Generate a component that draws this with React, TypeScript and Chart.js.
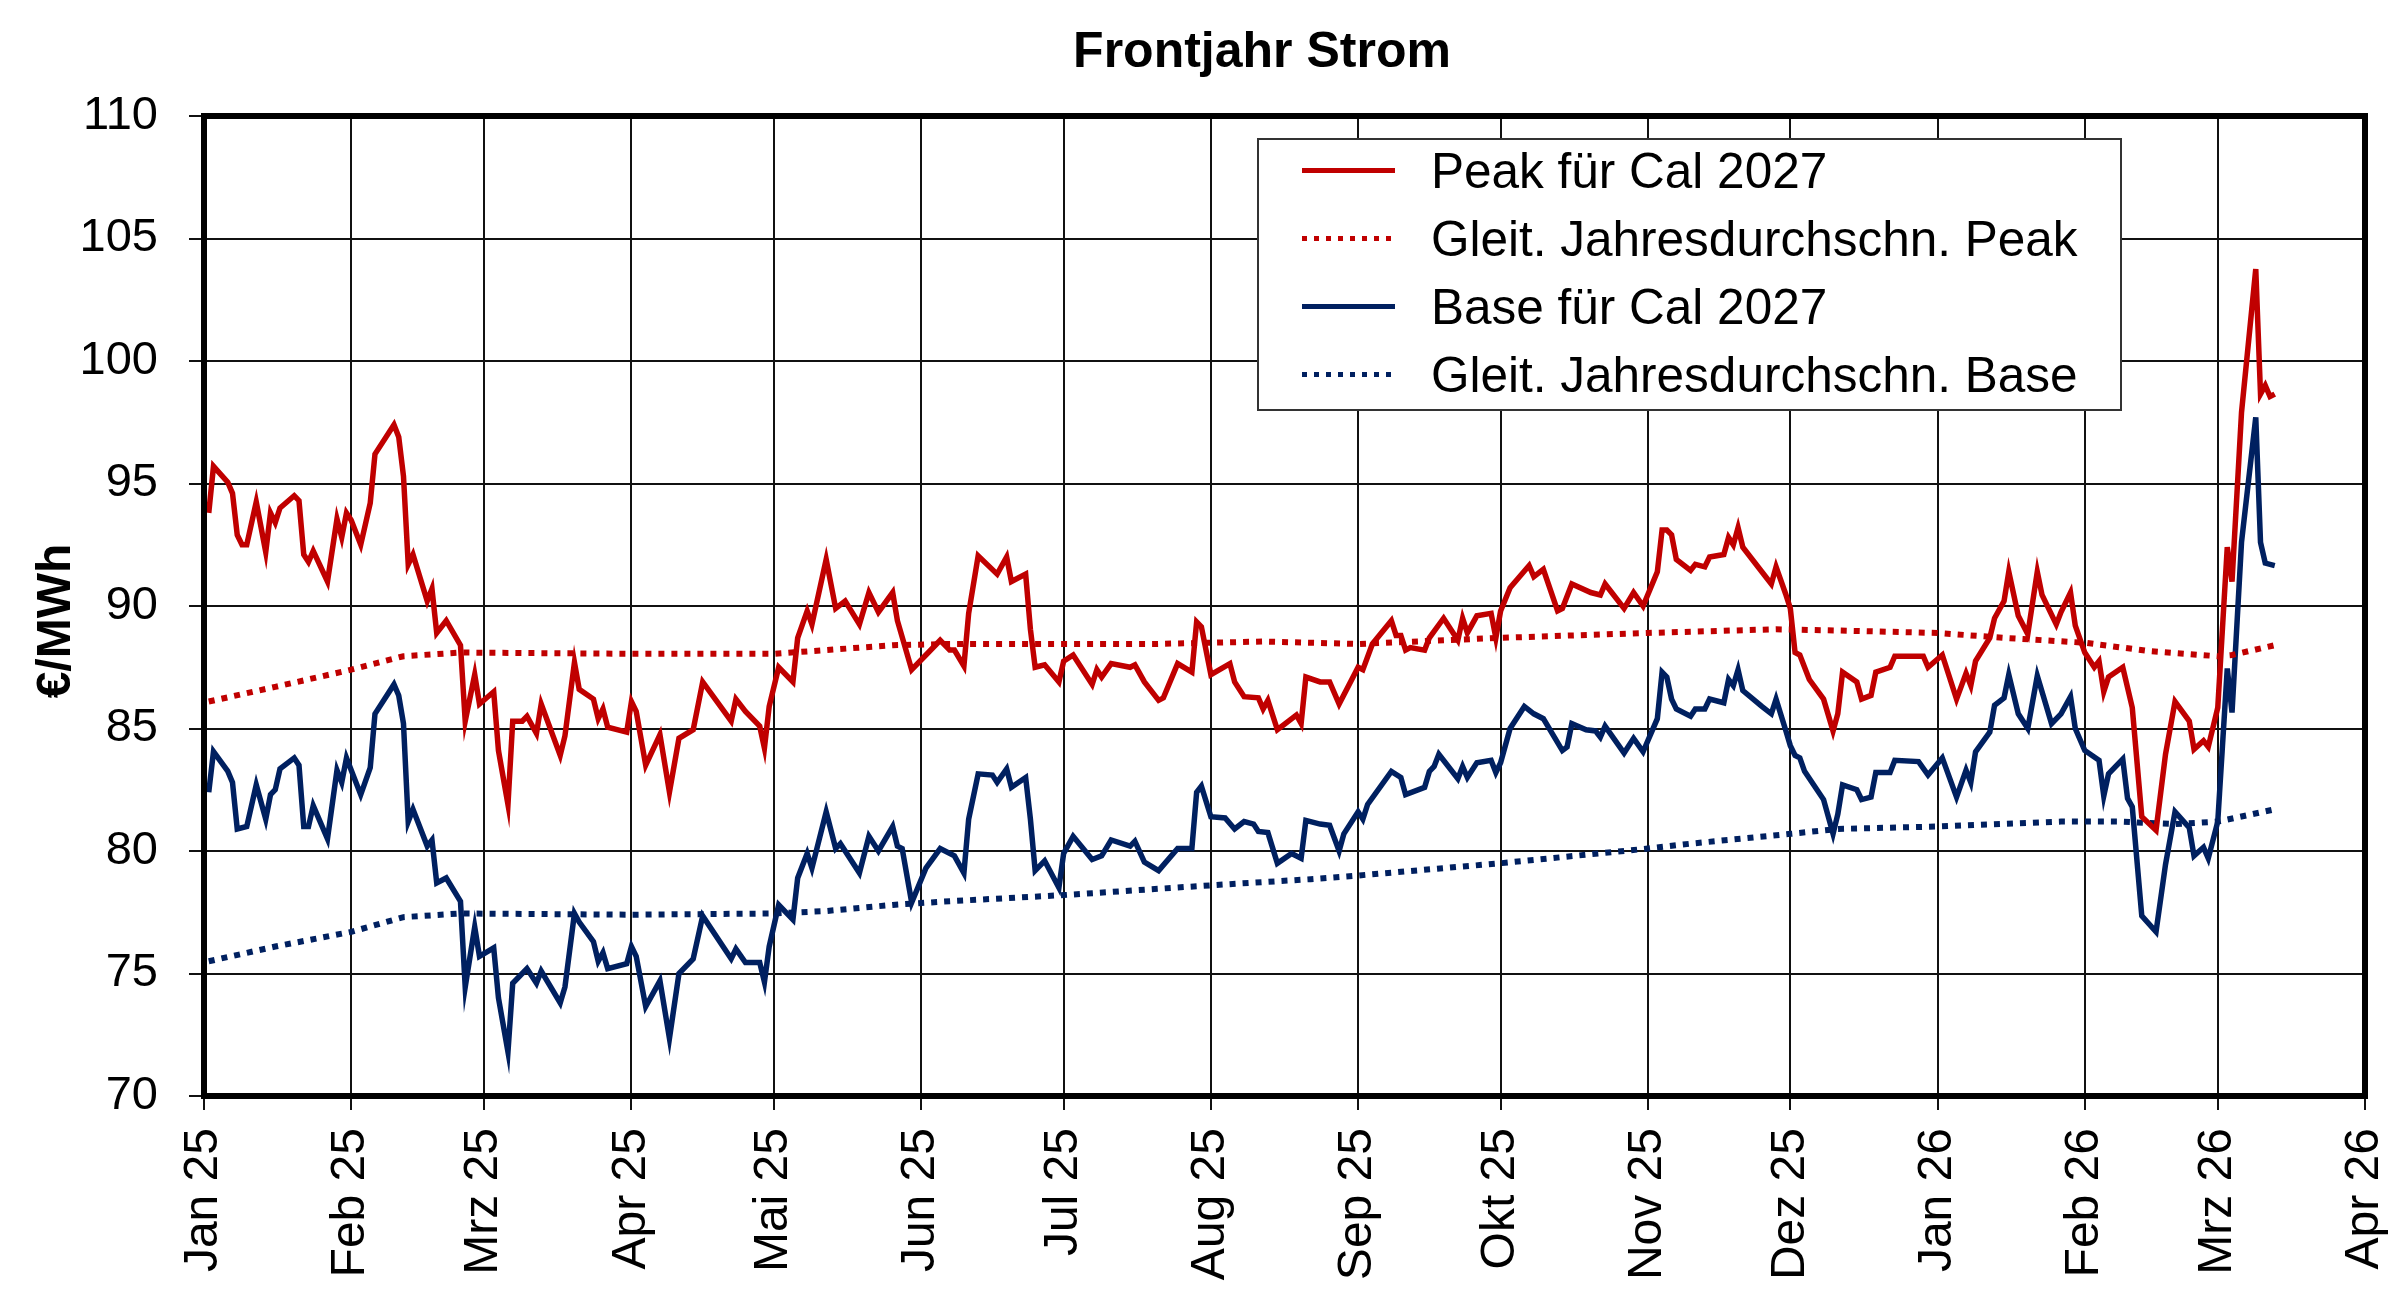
import { useEffect, useRef } from "react";
import { Chart, registerables } from "chart.js";

Chart.register(...registerables);

// x values are days counted from 1 Jan 2025
const monthTicks = [0, 31, 59, 90, 120, 151, 181, 212, 243, 273, 304, 334, 365, 396, 424, 455];
const monthLabels = [
  "Jan 25", "Feb 25", "Mrz 25", "Apr 25", "Mai 25", "Jun 25", "Jul 25", "Aug 25",
  "Sep 25", "Okt 25", "Nov 25", "Dez 25", "Jan 26", "Feb 26", "Mrz 26", "Apr 26",
];

const peakDays = [
  1, 2, 5, 6, 7, 8, 9, 11, 13, 14, 15, 16, 19, 20, 21, 22, 23, 26, 28, 29, 30, 31, 33, 35, 36, 40, 41,
  42, 43, 44, 47, 48, 49, 51, 54, 55, 57, 58, 61, 62, 64, 65, 67, 68, 70, 71, 75, 76, 78, 79,
  82, 83, 84, 85, 89, 90, 91, 93, 96, 98, 100, 103, 105, 111, 112, 114, 117, 118, 119, 121, 124,
  125, 127, 128, 131, 133, 135, 138, 140, 142, 145, 146, 149, 152, 155, 157, 158, 160, 161, 163,
  167, 169, 170, 173, 174, 175, 177, 180, 181, 183, 187, 188, 189, 191, 195, 196, 198, 201, 202,
  205, 208, 209, 210, 212, 216, 217, 219, 222, 223, 224, 226, 230, 231, 232, 235, 237, 239, 243,
  244, 246, 250, 251, 252, 253, 254, 257, 258, 261, 264, 265, 266, 268, 271, 272, 273, 275, 279,
  280, 282, 285, 286, 288, 292, 294, 295, 299, 301, 303, 306, 307, 308, 309, 310, 313, 314, 316,
  317, 320, 321, 322, 323, 324, 328, 330, 331, 333, 334, 335, 336, 338, 341, 343, 344, 345, 348,
  349, 351, 352, 355, 356, 362, 363, 366, 369, 371, 372, 373, 376, 377, 379, 380, 382, 384, 386,
  387, 390, 391, 393, 394, 396, 398, 399, 400, 401, 404, 406, 408, 411, 413, 415, 418, 419, 421,
  422, 424, 426, 427, 429, 432, 433, 434, 435, 436,
];
const peakValues = [
  93.8, 95.7, 95.05, 94.6, 92.9, 92.5, 92.5, 94.25, 92.2, 93.8, 93.4, 94.0, 94.5, 94.3, 92.1, 91.8,
  92.25, 91.0, 93.55, 92.8, 93.8, 93.5, 92.5, 94.2, 96.2, 97.4, 96.9, 95.3, 91.7, 92.1, 90.2, 90.7,
  88.9, 89.4, 88.4, 85.3, 87.2, 86.0, 86.5, 84.1, 81.9, 85.3, 85.3, 85.5, 84.8, 86.0, 83.9, 84.7,
  87.7, 86.6, 86.2, 85.4, 85.8, 85.05, 84.85, 86.1, 85.7, 83.5, 84.75, 82.4, 84.6, 84.95, 86.9,
  85.3, 86.2, 85.7, 85.1, 84.2, 85.9, 87.5, 86.9, 88.7, 89.8, 89.25, 91.9, 89.9, 90.2, 89.25, 90.55,
  89.75, 90.55, 89.4, 87.4, 88.0, 88.6, 88.2, 88.2, 87.55, 89.7, 92.05, 91.3, 92.0, 91.0, 91.3,
  89.05, 87.5, 87.6, 86.9, 87.75, 88.0, 86.8, 87.4, 87.1, 87.65, 87.5, 87.6, 86.9, 86.15, 86.25,
  87.65, 87.3, 89.35, 89.15, 87.2, 87.65, 86.9, 86.3, 86.25, 85.8, 86.15, 84.95, 85.55, 85.2, 87.1,
  86.9, 86.9, 86.0, 87.5, 87.4, 88.45, 89.4, 88.8, 88.8, 88.2, 88.3, 88.2, 88.7, 89.5, 88.6, 89.5,
  88.9, 89.6, 89.7, 88.7, 89.8, 90.75, 91.65, 91.2, 91.5, 89.8, 89.9, 90.9, 90.55, 90.45, 90.9,
  89.9, 90.55, 90.0, 91.4, 93.1, 93.1, 92.9, 91.9, 91.45, 91.7, 91.6, 92.0, 92.1, 92.8, 92.5, 93.2,
  92.4, 91.4, 90.9, 91.6, 90.5, 89.9, 88.1, 88.0, 87.0, 86.2, 84.9, 85.6, 87.3, 86.9, 86.2, 86.35,
  87.3, 87.5, 87.95, 87.95, 87.5, 88.0, 86.2, 87.25, 86.75, 87.75, 88.7, 89.5, 90.2, 91.4, 89.6,
  88.85, 91.4, 90.45, 89.25, 89.75, 90.55, 89.2, 88.1, 87.5, 87.75, 86.5, 87.1, 87.5, 85.85, 81.4,
  80.85, 83.95, 86.1, 85.3, 84.15, 84.5, 84.25, 85.85, 92.4, 91.0, 97.9, 103.75, 98.65, 99.0,
  98.55, 98.65,
];

const baseDays = [
  1, 2, 5, 6, 7, 9, 11, 13, 14, 15, 16, 19, 20, 21, 22, 23, 26, 28, 29, 30, 33, 35, 36, 40, 41, 42,
  43, 44, 47, 48, 49, 51, 54, 55, 57, 58, 61, 62, 64, 65, 68, 70, 71, 75, 76, 78, 79, 82, 83, 84,
  85, 89, 90, 91, 93, 96, 98, 100, 103, 105, 111, 112, 114, 117, 118, 119, 121, 124, 125, 127, 128,
  131, 133, 134, 138, 140, 142, 145, 146, 147, 149, 152, 155, 158, 160, 161, 163, 166, 167, 169,
  170, 173, 174, 175, 177, 180, 181, 183, 187, 189, 191, 195, 196, 198, 201, 205, 208, 209, 210,
  212, 215, 217, 219, 221, 222, 224, 226, 229, 231, 232, 235, 237, 239, 240, 243, 244, 245, 250,
  252, 253, 257, 258, 259, 260, 264, 265, 266, 268, 271, 272, 273, 275, 278, 280, 282, 286, 287,
  288, 291, 293, 294, 295, 299, 301, 303, 306, 307, 308, 309, 310, 313, 314, 316, 317, 320, 321,
  322, 323, 324, 328, 330, 331, 333, 334, 335, 336, 337, 341, 343, 344, 345, 348, 349, 351, 352,
  355, 356, 361, 363, 366, 369, 371, 372, 373, 376, 377, 379, 380, 382, 384, 386, 389, 391, 393,
  394, 396, 399, 400, 401, 404, 405, 406, 408, 411, 413, 415, 418, 419, 421, 422, 424, 426, 427,
  429, 432, 433, 434, 436,
];
const baseValues = [
  82.4, 84.06, 83.26, 82.8, 80.9, 81.0, 82.7, 81.3, 82.3, 82.5, 83.35, 83.8, 83.5, 81.0, 81.0,
  81.85, 80.5, 83.3, 82.8, 83.8, 82.3, 83.4, 85.6, 86.8, 86.35, 85.2, 81.2, 81.7, 80.2, 80.45,
  78.7, 78.9, 77.95, 74.45, 76.9, 75.7, 76.05, 74.0, 71.8, 74.6, 75.2, 74.6, 75.1, 73.8, 74.45,
  77.45, 77.1, 76.3, 75.5, 75.85, 75.2, 75.4, 76.1, 75.7, 73.65, 74.7, 72.35, 75.0, 75.6, 77.35,
  75.6, 76.0, 75.45, 75.45, 74.65, 76.1, 77.8, 77.2, 78.9, 79.9, 79.3, 81.6, 80.1, 80.3, 79.1,
  80.6, 80.0, 81.0, 80.2, 80.1, 77.9, 79.3, 80.1, 79.8, 79.1, 81.3, 83.15, 83.1, 82.8, 83.35, 82.6,
  83.0, 81.3, 79.2, 79.6, 78.5, 79.9, 80.6, 79.65, 79.8, 80.45, 80.2, 80.4, 79.55, 79.2, 80.1,
  80.1, 82.4, 82.65, 81.4, 81.35, 80.9, 81.2, 81.1, 80.8, 80.75, 79.5, 79.9, 79.7, 81.25, 81.1,
  81.05, 80.0, 80.7, 81.6, 81.3, 81.9, 83.25, 83.0, 82.3, 82.6, 83.25, 83.45, 83.95, 82.95, 83.45,
  83.0, 83.6, 83.7, 83.2, 83.6, 85.0, 85.9, 85.6, 85.4, 84.1, 84.25, 85.2, 84.95, 84.9, 84.65,
  85.1, 84.0, 84.6, 84.05, 85.4, 87.3, 87.1, 86.2, 85.8, 85.5, 85.8, 85.8, 86.2, 86.05, 87.0,
  86.75, 87.4, 86.55, 85.9, 85.6, 86.2, 84.95, 84.3, 83.9, 83.8, 83.25, 82.1, 80.7, 81.5, 82.7,
  82.5, 82.1, 82.2, 83.2, 83.2, 83.7, 83.65, 83.1, 83.8, 82.2, 83.3, 82.8, 84.05, 84.85, 85.95,
  86.25, 87.2, 85.6, 85.0, 87.15, 85.2, 85.6, 86.3, 85.0, 84.1, 83.7, 82.25, 83.15, 83.75, 82.15,
  81.8, 77.35, 76.7, 79.45, 81.6, 80.95, 79.8, 80.15, 79.7, 81.2, 87.45, 85.65, 92.6, 97.7, 92.6,
  91.75, 91.65,
];

const peakAvgDays = [1, 15, 31, 42, 54, 90, 120, 131, 145, 157, 200, 223, 243, 273, 304, 331, 344, 365, 379, 396, 410, 424, 427, 436];
const peakAvgValues = [86.1, 86.7, 87.4, 87.95, 88.1, 88.05, 88.05, 88.2, 88.4, 88.45, 88.45, 88.55, 88.45, 88.7, 88.9, 89.05, 89.0, 88.9, 88.7, 88.5, 88.15, 87.95, 88.0, 88.4];

const baseAvgDays = [1, 15, 31, 42, 54, 90, 120, 131, 145, 157, 181, 212, 233, 243, 273, 304, 313, 334, 344, 365, 391, 403, 415, 424, 436];
const baseAvgValues = [75.5, 76.1, 76.7, 77.3, 77.45, 77.4, 77.45, 77.55, 77.8, 77.95, 78.2, 78.6, 78.85, 79.0, 79.5, 80.1, 80.3, 80.7, 80.9, 81.0, 81.2, 81.2, 81.1, 81.2, 81.7];

const RED = "#c00000";
const BLUE = "#002060";
const FONT = "'Liberation Sans', Arial, sans-serif";

const legendItems = [
  { label: "Peak für Cal 2027", color: RED, dotted: false },
  { label: "Gleit. Jahresdurchschn. Peak", color: RED, dotted: true },
  { label: "Base für Cal 2027", color: BLUE, dotted: false },
  { label: "Gleit. Jahresdurchschn. Base", color: BLUE, dotted: true },
];

const toPoints = (days: number[], values: number[]) =>
  days.map((d, i) => ({ x: d, y: values[i] }));

// thick frame round the plot area
const framePlugin = {
  id: "frame",
  afterDraw(chart: Chart) {
    const { ctx, chartArea: a } = chart;
    ctx.save();
    ctx.strokeStyle = "#000";
    ctx.lineWidth = 6;
    ctx.strokeRect(a.left, a.top, a.right - a.left, a.bottom - a.top);
    ctx.restore();
  },
};

export default function App() {
  const canvasRef = useRef<HTMLCanvasElement>(null);
  const chartRef = useRef<Chart | null>(null);

  useEffect(() => {
    if (!canvasRef.current) return;
    if (chartRef.current) chartRef.current.destroy();

    const solid = { borderWidth: 5.5, pointRadius: 0, tension: 0, fill: false };
    const dotted = { ...solid, borderWidth: 6, borderDash: [6, 7] };

    chartRef.current = new Chart(canvasRef.current, {
      type: "line",
      data: {
        datasets: [
          { label: "Peak für Cal 2027", data: toPoints(peakDays, peakValues), borderColor: RED, ...solid },
          { label: "Gleit. Jahresdurchschn. Peak", data: toPoints(peakAvgDays, peakAvgValues), borderColor: RED, ...dotted },
          { label: "Base für Cal 2027", data: toPoints(baseDays, baseValues), borderColor: BLUE, ...solid },
          { label: "Gleit. Jahresdurchschn. Base", data: toPoints(baseAvgDays, baseAvgValues), borderColor: BLUE, ...dotted },
        ],
      },
      plugins: [framePlugin],
      options: {
        responsive: false,
        animation: false,
        devicePixelRatio: 1,
        layout: { padding: { left: 0, right: 35, top: 116, bottom: 0 } },
        plugins: {
          legend: { display: false },
          tooltip: { enabled: false },
          title: { display: false },
        },
        scales: {
          x: {
            type: "linear",
            min: 0,
            max: 455,
            afterBuildTicks: (scale: any) => {
              scale.ticks = monthTicks.map((value) => ({ value }));
            },
            afterFit: (scale: any) => {
              scale.height = 214;
              scale.paddingLeft = 0;
              scale.paddingRight = 0;
            },
            ticks: {
              autoSkip: false,
              maxRotation: 90,
              minRotation: 90,
              padding: 18,
              color: "#000",
              font: { family: FONT, size: 48 },
              callback: (_value: any, index: number) => monthLabels[index],
            },
            grid: { color: "#111", lineWidth: 2, tickLength: 14, tickColor: "#111" },
            border: { display: false },
          },
          y: {
            min: 70,
            max: 110,
            afterFit: (scale: any) => {
              scale.width = 204;
              scale.paddingTop = 0;
              scale.paddingBottom = 0;
            },
            ticks: {
              stepSize: 5,
              padding: 31,
              color: "#000",
              font: { family: FONT, size: 47 },
            },
            grid: { color: "#111", lineWidth: 2, tickLength: 15, tickColor: "#111" },
            border: { display: false },
          },
        },
      },
    });

    return () => {
      if (chartRef.current) {
        chartRef.current.destroy();
        chartRef.current = null;
      }
    };
  }, []);

  return (
    <div style={{ position: "absolute", left: 0, top: 0, width: 2400, height: 1310, background: "#fff", fontFamily: FONT }}>
      <canvas ref={canvasRef} width={2400} height={1310} style={{ width: 2400, height: 1310 }} />
      <div
        style={{
          position: "absolute",
          left: 662,
          top: 20,
          width: 1200,
          height: 60,
          lineHeight: "60px",
          textAlign: "center",
          fontSize: 50,
          fontWeight: "bold",
          color: "#000",
        }}
      >
        Frontjahr Strom
      </div>
      <div
        style={{
          position: "absolute",
          left: -96,
          top: 591,
          width: 300,
          height: 60,
          lineHeight: "60px",
          textAlign: "center",
          fontSize: 48,
          fontWeight: "bold",
          color: "#000",
          transform: "rotate(-90deg)",
        }}
      >
        €/MWh
      </div>
      <div
        style={{
          position: "absolute",
          left: 1257,
          top: 138,
          width: 865,
          height: 273,
          boxSizing: "border-box",
          border: "2px solid #333",
          background: "#fff",
        }}
      >
        {legendItems.map((item, i) => (
          <div key={item.label} style={{ position: "absolute", left: 0, right: 0, top: -3 + i * 68, height: 68 }}>
            <div
              style={{
                position: "absolute",
                left: 43,
                top: 31,
                width: 93,
                height: 5,
                background: item.dotted
                  ? `repeating-linear-gradient(to right, ${item.color} 0 5px, transparent 5px 12px)`
                  : item.color,
              }}
            />
            <div
              style={{
                position: "absolute",
                left: 172,
                top: 0,
                lineHeight: "68px",
                fontSize: 49.5,
                color: "#000",
                whiteSpace: "nowrap",
              }}
            >
              {item.label}
            </div>
          </div>
        ))}
      </div>
    </div>
  );
}
